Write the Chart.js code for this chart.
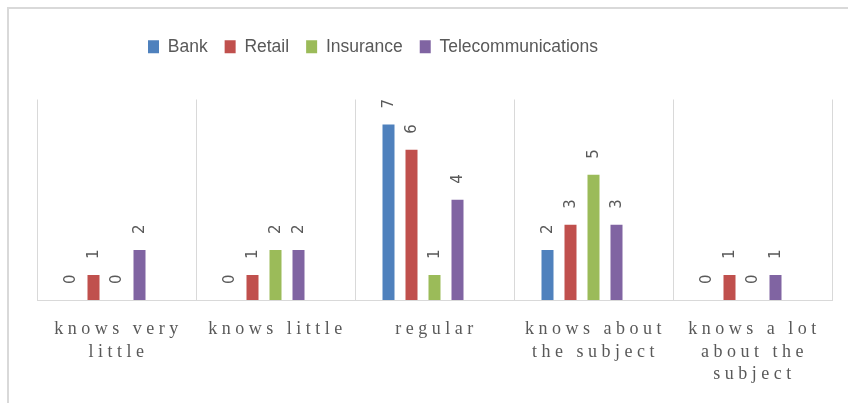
<!DOCTYPE html>
<html>
<head>
<meta charset="utf-8">
<script src="https://cdn.jsdelivr.net/npm/chart.js@4.4.0/dist/chart.umd.min.js"></script>
<style>
  html, body { margin: 0; padding: 0; background: #fff; overflow: hidden; }
  #frame { position: absolute; left: 7px; top: 7px; width: 900px; height: 500px; border-left: 2px solid #d9d9d9; border-top: 2px solid #d9d9d9; }
  #chart { position: absolute; left: 0; top: 0; }
</style>
</head>
<body>
<div id="frame"></div>
<canvas id="chart" width="848" height="403"></canvas>
<script>
const categories = [
  ["knows very", "little"],
  ["knows little"],
  ["regular"],
  ["knows about", "the subject"],
  ["knows a lot", "about the", "subject"],
];
const bank = [0, 0, 7, 2, 0];
const retail = [1, 1, 6, 3, 1];
const insurance = [0, 2, 1, 5, 0];
const telecom = [2, 2, 4, 3, 1];
const seriesNames = ["Bank", "Retail", "Insurance", "Telecommunications"];
const seriesColors = ["#4F81BD", "#C0504D", "#9BBB59", "#8064A2"];
const yMin = 0;
const yMax = 8;

const textColor = "#595959";
const gridColor = "#D9D9D9";

// rotated value labels above each bar
const barLabels = {
  id: "barLabels",
  afterDatasetsDraw(chart) {
    const ctx = chart.ctx;
    ctx.save();
    ctx.fillStyle = textColor;
    ctx.font = "15px 'DejaVu Sans'";
    ctx.textAlign = "left";
    ctx.textBaseline = "middle";
    for (let i = 0; i < seriesNames.length; i++) {
      const meta = chart.getDatasetMeta(i);
      const values = chart.data.datasets[i].data;
      meta.data.forEach((bar, j) => {
        ctx.save();
        ctx.translate(bar.x + 1, bar.y - 16);
        ctx.rotate(-Math.PI / 2);
        ctx.fillText(String(values[j]), 0, 0);
        ctx.restore();
      });
    }
    ctx.restore();
  },
};

// serif, letter-spaced category labels under the axis
const categoryLabels = {
  id: "categoryLabels",
  afterDraw(chart) {
    const ctx = chart.ctx;
    const xScale = chart.scales.x;
    const base = chart.chartArea.bottom;
    ctx.save();
    ctx.fillStyle = textColor;
    ctx.font = "18px 'Liberation Serif'";
    ctx.letterSpacing = "4.5px";
    ctx.textAlign = "center";
    ctx.textBaseline = "alphabetic";
    categories.forEach((lines, i) => {
      const x = xScale.getPixelForValue(i) + 2;
      lines.forEach((line, k) => {
        ctx.fillText(line, x, base + 34 + k * 22.5);
      });
    });
    ctx.restore();
  },
};

// extra room under the legend, and legend start position
const legendSpace = {
  id: "legendSpace",
  beforeInit(chart) {
    const fit = chart.legend.fit;
    chart.legend.fit = function () {
      fit.bind(chart.legend)();
      this.height += 34;
    };
  },
  afterLayout(chart) {
    const lg = chart.legend;
    const pad = lg.options.labels.padding;
    const start = (lg.left + pad + lg.right - lg.lineWidths[0]) / 2;
    const dx = 148 - start;
    lg.left += dx;
    lg.right += dx;
  },
};

function makeDatasets() {
  const all = [bank, retail, insurance, telecom];
  const sets = all.map((values, i) => ({
    label: seriesNames[i],
    data: values,
    backgroundColor: seriesColors[i],
    borderWidth: 0,
  }));
  // empty fifth slot, keeps groups left of centre like the original
  sets.push({ label: "", data: [], backgroundColor: "rgba(0,0,0,0)" });
  return sets;
}

function createChart() {
  const ctx = document.getElementById("chart").getContext("2d");
  new Chart(ctx, {
    type: "bar",
    data: {
      labels: categories.map((c) => c.join(" ")),
      datasets: makeDatasets(),
    },
    options: {
      responsive: false,
      animation: false,
      devicePixelRatio: 1,
      categoryPercentage: 115 / 159,
      barPercentage: 12 / 23,
      layout: {
        padding: { left: 37, right: 16, top: 21, bottom: 103 },
      },
      plugins: {
        legend: {
          position: "top",
          labels: {
            boxWidth: 11,
            boxHeight: 13,
            padding: 17,
            color: textColor,
            font: { family: "'Liberation Sans'", size: 17.5 },
            filter: (item) => item.datasetIndex < seriesNames.length,
          },
        },
        tooltip: { enabled: false },
      },
      scales: {
        x: {
          grid: {
            display: true,
            offset: true,
            color: gridColor,
            lineWidth: 1,
            drawTicks: false,
          },
          border: { display: true, color: gridColor, width: 1 },
          ticks: { display: false },
        },
        y: {
          display: false,
          min: yMin,
          max: yMax,
        },
      },
    },
    plugins: [barLabels, categoryLabels, legendSpace],
  });
}

createChart();
</script>
</body>
</html>
